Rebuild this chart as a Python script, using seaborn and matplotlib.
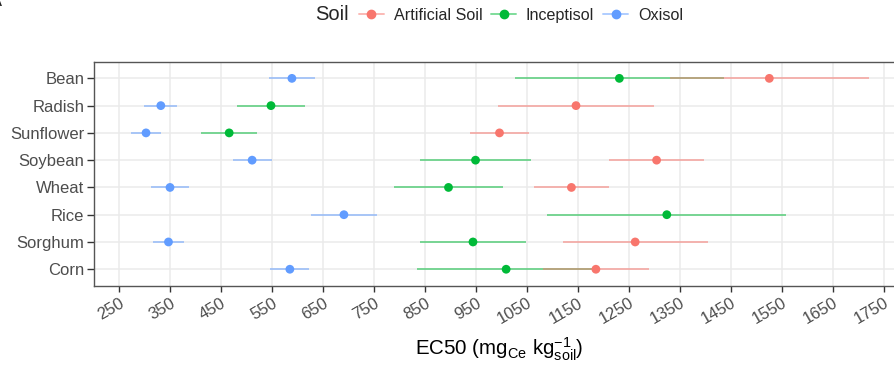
import numpy as np
import pandas as pd
import matplotlib
matplotlib.use("Agg")
import matplotlib.pyplot as plt
import seaborn as sns
from matplotlib.lines import Line2D
from matplotlib.colors import to_rgba

# Plants, top to bottom
plants = ["Bean", "Radish", "Sunflower", "Soybean", "Wheat", "Rice", "Sorghum", "Corn"]
soils = ["Artificial Soil", "Inceptisol", "Oxisol"]

# EC50 estimates and half-width of the error bars (mg Ce / kg soil)
artificial_ec50 = [1525, 1146, 996, 1304, 1137, np.nan, 1262, 1185]
artificial_err = [195, 153, 57, 93, 74, np.nan, 142, 104]
inceptisol_ec50 = [1231, 548, 466, 949, 896, 1324, 944, 1009]
inceptisol_err = [205, 67, 55, 108, 107, 234, 103, 174]
oxisol_ec50 = [589, 332, 303, 511, 350, 691, 347, 585]
oxisol_err = [45, 32, 30, 38, 37, 64, 30, 38]

x_ticks = list(range(250, 1751, 100))

palette = {"Artificial Soil": "#F8766D", "Inceptisol": "#00BA38", "Oxisol": "#619CFF"}

frames = []
for soil, ec50, err in zip(soils,
                           [artificial_ec50, inceptisol_ec50, oxisol_ec50],
                           [artificial_err, inceptisol_err, oxisol_err]):
    frames.append(pd.DataFrame({"Plant": plants, "pos": np.arange(len(plants)),
                                "Soil": soil, "EC50": ec50, "err": err}))
df = pd.concat(frames, ignore_index=True).dropna()

sns.set_theme(style="whitegrid")
plt.rcParams["font.family"] = ["Liberation Sans", "DejaVu Sans"]
plt.rcParams["mathtext.fontset"] = "custom"
plt.rcParams["mathtext.rm"] = "Liberation Sans"
plt.rcParams["mathtext.it"] = "Liberation Sans:italic"

W, H = 894, 370
fig = plt.figure(figsize=(W / 100, H / 100), dpi=100)
fig.patch.set_facecolor("white")
left, right, top, bottom = 94, 905, 62, 285.6
ax = fig.add_axes([left / W, 1 - bottom / H, (right - left) / W, (bottom - top) / H])
ax.set_facecolor("white")

# translucent error bars first (artificial soil drawn last so overlaps turn tan),
# then the points on top
for soil in soils[::-1]:
    sub = df[df["Soil"] == soil]
    ax.hlines(sub["pos"], sub["EC50"] - sub["err"], sub["EC50"] + sub["err"],
              color=palette[soil], alpha=0.5, lw=1.4, zorder=2)

sns.scatterplot(data=df, x="EC50", y="pos", hue="Soil", palette=palette,
                s=40, edgecolor="none", linewidth=0, legend=False, ax=ax, zorder=3)

ax.set_ylim(len(plants) - 0.4, -0.6)
ax.set_yticks(range(len(plants)))
ax.set_yticklabels(plants)
ax.set_xlim(201, 1791)
ax.set_xticks(x_ticks)
ax.set_xticklabels([str(t) for t in x_ticks], rotation=30, ha="right",
                   rotation_mode="anchor")

ax.grid(True, color="#EBEBEB", lw=1.1)
ax.set_axisbelow(True)
for sp in ax.spines.values():
    sp.set_color("#555555")
    sp.set_linewidth(1.0)

ax.tick_params(axis="y", length=5, width=1, color="#333333", pad=2,
               labelsize=12, labelcolor="#4D4D4D", left=True)
ax.tick_params(axis="x", length=4.5, width=1, color="#333333", pad=2.5,
               labelsize=12, labelcolor="#4D4D4D", bottom=True)

ax.set_ylabel("")
ax.set_xlabel("")
fig.text(499 / W, 1 - 355 / H, r"EC50 (mg$_{\mathrm{Ce}}$ kg$_{\mathrm{soil}}^{-1}$)",
         fontsize=14.8, color="black", ha="center", va="baseline")

# legend along the top
fig.text(315 / W, 1 - 15 / H, "Soil", fontsize=14.5, va="center", ha="left")
handles = [Line2D([0], [0], color=to_rgba(palette[s], 0.5), lw=1.4, marker="o",
                  markersize=6, markerfacecolor=palette[s], markeredgecolor=palette[s])
           for s in soils]
fig.legend(handles, soils, loc="center left", bbox_to_anchor=(359 / W, 1 - 15.5 / H),
           ncol=3, frameon=False, fontsize=11.6, handlelength=1.55, handletextpad=0.6,
           columnspacing=0.55, borderpad=0, borderaxespad=0)

fig.text(2 / W, 1 - 6 / H, "A", fontsize=13, ha="right", va="baseline")

fig.savefig("out.png", dpi=100, facecolor="white")
